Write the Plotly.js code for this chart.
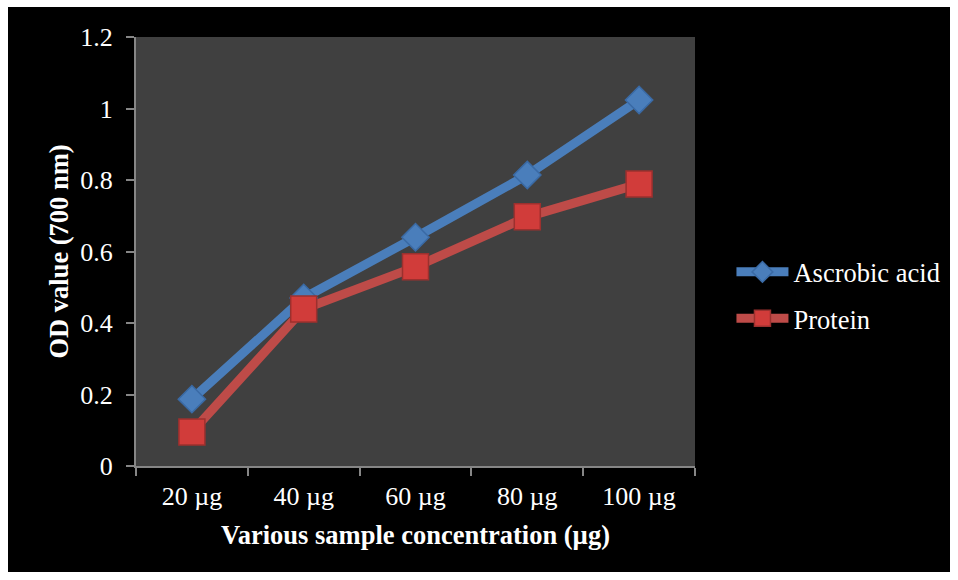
<!DOCTYPE html>
<html><head><meta charset="utf-8">
<script src="https://cdn.plot.ly/plotly-3.0.1.min.js"></script>
<style>html,body{margin:0;padding:0;background:#fff;}#chart{position:absolute;left:8px;top:7px;width:942px;height:565px;}</style>
</head><body><div id="chart"></div>
<script>
const categories = ["20 µg","40 µg","60 µg","80 µg","100 µg"];
const ascorbic = [0.187, 0.47, 0.64, 0.814, 1.024];
const protein = [0.095, 0.439, 0.557, 0.697, 0.789];
const yTicks = [0,0.2,0.4,0.6,0.8,1,1.2];
const yTickText = ["0","0.2","0.4","0.6","0.8","1","1.2"];

const fam = "Liberation Serif, Times New Roman, serif";
const traces = [
 {x:categories, y:ascorbic, name:"Ascrobic acid", type:"scatter", mode:"lines+markers", legendgroup:"a",
  line:{color:"#4a7ebb", width:9},
  marker:{symbol:"diamond", size:21, color:"#4a7ebb", line:{color:"#3a6aa5", width:1.5}}},
 {x:categories, y:protein, name:"Protein", type:"scatter", mode:"lines+markers", legendgroup:"b",
  line:{color:"#be4b48", width:9},
  marker:{symbol:"square", size:26, color:"#d13c3a", line:{color:"#9c302e", width:1.5}}}
];
const layout = {
 width:942, height:565,
 paper_bgcolor:"#000000", plot_bgcolor:"#404040",
 margin:{l:128, r:255, t:30, b:106},
 font:{family:fam, color:"#fff", size:26},
 showlegend:true,
 legend:{xref:"container", yref:"container", x:0.768, xanchor:"left", y:0.490, yanchor:"middle",
   font:{family:fam, color:"#fff", size:26.5}, bgcolor:"rgba(0,0,0,0)", tracegroupgap:9, itemwidth:52},
 xaxis:{type:"category", range:[-0.5,4.5], autorange:false, showgrid:false, zeroline:false, showline:true, linecolor:"#868686", linewidth:2,
   ticks:"outside", tickson:"boundaries", ticklen:8, tickcolor:"#868686", tickwidth:2, ticklabelstandoff:6,
   tickfont:{family:fam, color:"#fff", size:26},
   title:{text:"<b>Various sample concentration (µg)</b>", font:{family:fam, color:"#fff", size:26.5}, standoff:15}},
 yaxis:{range:[0,1.2], autorange:false, tickvals:yTicks, ticktext:yTickText, showgrid:false, zeroline:false, showline:true, linecolor:"#868686", linewidth:2,
   ticks:"outside", ticklen:8, tickcolor:"#868686", tickwidth:2, ticklabelstandoff:8,
   tickfont:{family:fam, color:"#fff", size:26},
   title:{text:"<b>OD value (700 nm)</b>", font:{family:fam, color:"#fff", size:26.5}, standoff:4}}
};
Plotly.newPlot("chart", traces, layout, {displayModeBar:false, staticPlot:true});
</script></body></html>
